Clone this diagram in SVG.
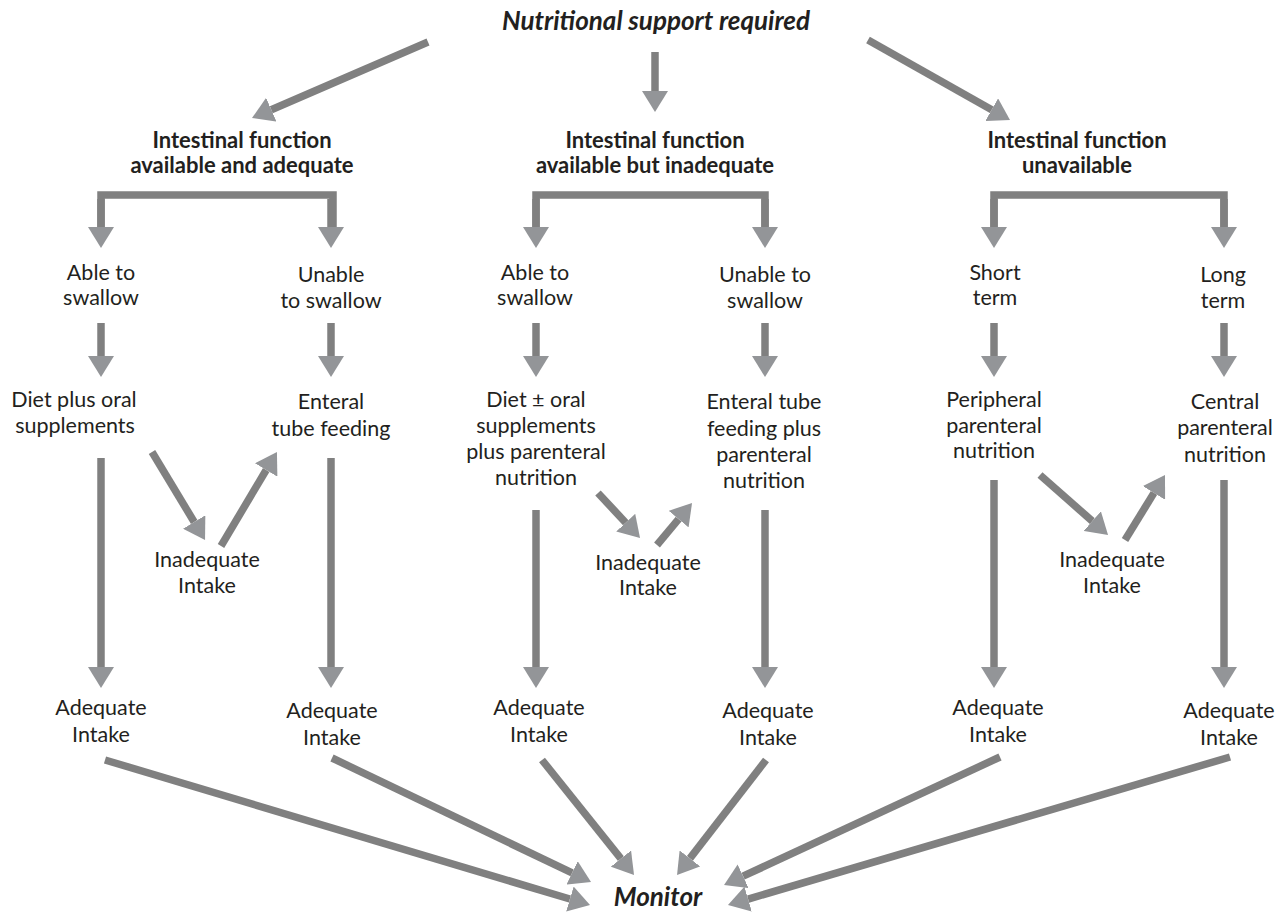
<svg xmlns="http://www.w3.org/2000/svg" width="1284" height="916" viewBox="0 0 1284 916">
<defs>
<marker id="ah" viewBox="0 0 21 26" refX="0" refY="13" markerWidth="21" markerHeight="26" markerUnits="userSpaceOnUse" orient="auto">
<path d="M0,0 L21,13 L0,26 z" fill="#939598"/>
</marker>
<style>
.t{font-family:Lato,"Open Sans","Liberation Sans",sans-serif;font-size:21.5px;fill:#231f20;text-anchor:middle}
.h{font-family:Lato,"Open Sans","Liberation Sans",sans-serif;font-size:22px;font-weight:bold;fill:#231f20;text-anchor:middle}
.ti{font-family:Lato,"Open Sans","Liberation Sans",sans-serif;font-size:26px;font-weight:bold;font-style:italic;fill:#231f20;text-anchor:middle}
.c{stroke:#808080;stroke-width:7.5;fill:none;marker-end:url(#ah)}
</style>
</defs>
<rect width="1284" height="916" fill="#ffffff"/>

<g id="title"><text class="ti" x="656" y="30">Nutritional support required</text></g>

<g id="h1"><text class="h" x="242" y="148">Intestinal function</text><text class="h" x="242" y="173">available and adequate</text></g>
<g id="h2"><text class="h" x="655" y="148">Intestinal function</text><text class="h" x="655" y="173">available but inadequate</text></g>
<g id="h3"><text class="h" x="1077" y="148">Intestinal function</text><text class="h" x="1077" y="173">unavailable</text></g>

<g id="n1a"><text class="t" x="101" y="280">Able to</text><text class="t" x="101" y="305">swallow</text></g>
<g id="n1b"><text class="t" x="331" y="282">Unable</text><text class="t" x="331" y="308">to swallow</text></g>
<g id="n2a"><text class="t" x="535" y="280">Able to</text><text class="t" x="535" y="305">swallow</text></g>
<g id="n2b"><text class="t" x="765" y="282">Unable to</text><text class="t" x="765" y="308">swallow</text></g>
<g id="n3a"><text class="t" x="995" y="280">Short</text><text class="t" x="995" y="305">term</text></g>
<g id="n3b"><text class="t" x="1223" y="282">Long</text><text class="t" x="1223" y="308">term</text></g>

<g id="d1a"><text class="t" x="74" y="407">Diet plus oral</text><text class="t" x="75" y="433">supplements</text></g>
<g id="d1b"><text class="t" x="331" y="409">Enteral</text><text class="t" x="331" y="436">tube feeding</text></g>
<g id="d2a"><text class="t" x="536" y="407">Diet ± oral</text><text class="t" x="536" y="433">supplements</text><text class="t" x="536" y="459">plus parenteral</text><text class="t" x="536" y="485">nutrition</text></g>
<g id="d2b"><text class="t" x="764" y="409">Enteral tube</text><text class="t" x="764" y="436">feeding plus</text><text class="t" x="764" y="462">parenteral</text><text class="t" x="764" y="488">nutrition</text></g>
<g id="d3a"><text class="t" x="994" y="407">Peripheral</text><text class="t" x="994" y="433">parenteral</text><text class="t" x="994" y="458">nutrition</text></g>
<g id="d3b"><text class="t" x="1225" y="409">Central</text><text class="t" x="1225" y="435">parenteral</text><text class="t" x="1225" y="462">nutrition</text></g>

<g id="i1"><text class="t" x="207" y="567">Inadequate</text><text class="t" x="207" y="593">Intake</text></g>
<g id="i2"><text class="t" x="648" y="570">Inadequate</text><text class="t" x="648" y="595">Intake</text></g>
<g id="i3"><text class="t" x="1112" y="567">Inadequate</text><text class="t" x="1112" y="593">Intake</text></g>

<g id="a1"><text class="t" x="101" y="715">Adequate</text><text class="t" x="101" y="742">Intake</text></g>
<g id="a2"><text class="t" x="332" y="718">Adequate</text><text class="t" x="332" y="745">Intake</text></g>
<g id="a3"><text class="t" x="539" y="715">Adequate</text><text class="t" x="539" y="742">Intake</text></g>
<g id="a4"><text class="t" x="768" y="718">Adequate</text><text class="t" x="768" y="745">Intake</text></g>
<g id="a5"><text class="t" x="998" y="715">Adequate</text><text class="t" x="998" y="742">Intake</text></g>
<g id="a6"><text class="t" x="1229" y="718">Adequate</text><text class="t" x="1229" y="745">Intake</text></g>

<g id="monitor"><text class="ti" x="658" y="906">Monitor</text></g>

<g id="connectors">
<line class="c" x1="428" y1="42" x2="271.3" y2="109.7"/>
<line class="c" x1="655" y1="52" x2="655" y2="91"/>
<line class="c" x1="868" y1="40" x2="991.7" y2="109.7"/>

<path class="c" d="M333,227 V195 H101 V227" style="marker-end:none"/>
<line class="c" x1="101" y1="199" x2="101" y2="227"/>
<line class="c" x1="331" y1="199" x2="331" y2="227"/>
<path class="c" d="M765,227 V195 H536 V227" style="marker-end:none"/>
<line class="c" x1="536" y1="199" x2="536" y2="227"/>
<line class="c" x1="765" y1="199" x2="765" y2="227"/>
<path class="c" d="M1224,227 V195 H994 V227" style="marker-end:none"/>
<line class="c" x1="994" y1="199" x2="994" y2="227"/>
<line class="c" x1="1224" y1="199" x2="1224" y2="227"/>

<line class="c" x1="101" y1="323" x2="101" y2="356"/>
<line class="c" x1="331" y1="323" x2="331" y2="356"/>
<line class="c" x1="536" y1="323" x2="536" y2="356"/>
<line class="c" x1="765" y1="323" x2="765" y2="356"/>
<line class="c" x1="994" y1="323" x2="994" y2="356"/>
<line class="c" x1="1224" y1="323" x2="1224" y2="356"/>

<line class="c" x1="101" y1="458" x2="101" y2="667"/>
<line class="c" x1="331" y1="458" x2="331" y2="667"/>
<line class="c" x1="536" y1="510" x2="536" y2="667"/>
<line class="c" x1="765" y1="510" x2="765" y2="667"/>
<line class="c" x1="994" y1="480" x2="994" y2="667"/>
<line class="c" x1="1224" y1="480" x2="1224" y2="667"/>

<line class="c" x1="152" y1="452" x2="194.2" y2="522"/>
<line class="c" x1="221" y1="546" x2="266.2" y2="470"/>
<line class="c" x1="598" y1="493" x2="625.7" y2="522.7"/>
<line class="c" x1="657" y1="545" x2="678.6" y2="519.1"/>
<line class="c" x1="1040" y1="475" x2="1092.3" y2="521.1"/>
<line class="c" x1="1125" y1="540" x2="1154" y2="492.9"/>

<line class="c" x1="105" y1="760" x2="569.9" y2="899"/>
<line class="c" x1="332" y1="758" x2="572.1" y2="872.9"/>
<line class="c" x1="542" y1="760" x2="620.9" y2="858.6"/>
<line class="c" x1="766" y1="760" x2="689.9" y2="858.4"/>
<line class="c" x1="1000" y1="757" x2="743.1" y2="876.2"/>
<line class="c" x1="1230" y1="757" x2="748.1" y2="899.1"/>
</g>
</svg>
